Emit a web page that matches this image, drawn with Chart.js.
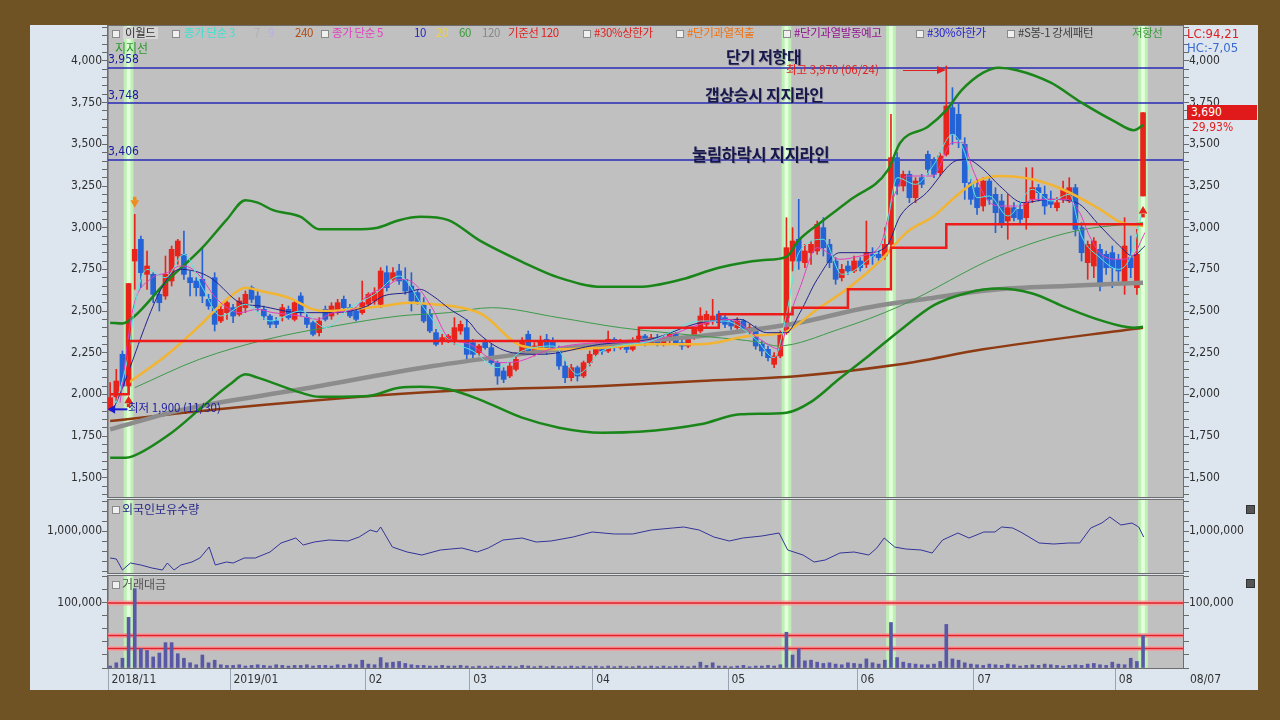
<!DOCTYPE html>
<html>
<head>
<meta charset="utf-8">
<title>이월드 일봉</title>
<script src="https://cdn.jsdelivr.net/npm/chart.js@4.4.0/dist/chart.umd.min.js"></script>
<style>
  body { margin: 0; background: #6f5325; }
  #wrap { position: relative; width: 1280px; height: 720px; background: #6f5325; overflow: hidden;
          font-family: 'Noto Sans CJK KR', 'Noto Sans', sans-serif; }
  #panel { position: absolute; left: 30px; top: 25px; width: 1228px; height: 665px; background: #dde6ef; }
  canvas { position: absolute; }
  .t { position: absolute; white-space: nowrap; line-height: 1; z-index: 5; }
  .lg { font-size: 11.5px; letter-spacing: -0.4px; top: 27px; }
  .bx { position: absolute; width: 6px; height: 6px; border: 1px solid #8a8a8a; background: #f0f0f0; z-index: 5; }
  .num { font-family: 'Liberation Sans Narrow', 'DejaVu Sans Condensed', sans-serif; font-size: 12px; }
  .big { font-size: 16px; font-weight: 700; color: #17174c; letter-spacing: -0.3px;
         text-shadow: 1px 1px 0 rgba(120,120,140,0.5); }
  .cls { position: absolute; width: 7px; height: 7px; background: #555; border: 1px solid #333; z-index: 5; }
</style>
</head>
<body>
<div id="wrap">
  <div id="panel"></div>
  <canvas id="cPrice" width="1228" height="474" style="left:30px;top:25px;"></canvas>
  <canvas id="cFh" width="1228" height="75" style="left:30px;top:499px;"></canvas>
  <canvas id="cTv" width="1228" height="116" style="left:30px;top:574px;"></canvas>

  <!-- legend row -->
  <span class="bx" style="left:112px;top:30px;"></span>
  <span class="t lg" style="left:123px;color:#303030;background:#d6d6d6;padding:0 2px;">이월드</span>
  <span class="bx" style="left:172px;top:30px;"></span>
  <span class="t lg" style="left:184px;color:#3ee0d0;">종가 단순 3</span>
  <span class="t lg" style="left:254px;color:#b0b0b0;">7</span>
  <span class="t lg" style="left:268px;color:#c0a8f0;">9</span>
  <span class="t lg" style="left:295px;color:#b04a10;">240</span>
  <span class="bx" style="left:321px;top:30px;"></span>
  <span class="t lg" style="left:332px;color:#e040c0;">종가 단순 5</span>
  <span class="t lg" style="left:414px;color:#2222cc;">10</span>
  <span class="t lg" style="left:436px;color:#f0d040;">20</span>
  <span class="t lg" style="left:459px;color:#3a9a3a;">60</span>
  <span class="t lg" style="left:482px;color:#888888;">120</span>
  <span class="t lg" style="left:508px;color:#e02020;">기준선 120</span>
  <span class="bx" style="left:583px;top:30px;"></span>
  <span class="t lg" style="left:594px;color:#e02020;">#30%상한가</span>
  <span class="bx" style="left:676px;top:30px;"></span>
  <span class="t lg" style="left:687px;color:#f07010;">#단기과열적출</span>
  <span class="bx" style="left:783px;top:30px;"></span>
  <span class="t lg" style="left:794px;color:#901090;">#단기과열발동예고</span>
  <span class="bx" style="left:916px;top:30px;"></span>
  <span class="t lg" style="left:927px;color:#2222cc;">#30%하한가</span>
  <span class="bx" style="left:1007px;top:30px;"></span>
  <span class="t lg" style="left:1018px;color:#404040;">#S봉-1 강세패턴</span>
  <span class="t lg" style="left:1132px;color:#3a9a3a;">저항선</span>

  <span class="t num" style="left:1187px;top:27px;color:#e02020;font-size:13px;">LC:94,21</span>
  <span class="t num" style="left:1187px;top:41px;color:#3a6ad0;font-size:13px;">HC:-7,05</span>

  <span class="t" style="left:115px;top:42px;color:#2a9a2a;font-size:12px;">지지선</span>
  <span class="t num" style="left:108px;top:53px;color:#1a1aa0;">3,958</span>
  <span class="t num" style="left:108px;top:89px;color:#1a1aa0;">3,748</span>
  <span class="t num" style="left:108px;top:145px;color:#1a1aa0;">3,406</span>

  <span class="t big" style="left:726px;top:48px;">단기 저항대</span>
  <span class="t big" style="left:705px;top:86px;">갭상승시 지지라인</span>
  <span class="t big" style="left:692px;top:146px;font-size:16.5px;">눌림하락시 지지라인</span>

  <span class="t" style="left:786px;top:64px;color:#e02020;font-size:11.5px;">최고 3,970 (06/24)</span>
  <span class="t" style="left:903px;top:70px;width:34px;height:1px;background:#e02020;"></span>
  <span class="t" style="left:937px;top:66px;width:0;height:0;border-top:4px solid transparent;border-bottom:4px solid transparent;border-left:9px solid #e02020;"></span>

  <span class="t" style="left:128px;top:402px;color:#1a1aa0;font-size:11.5px;">최저 1,900 (11/30)</span>

  <span class="t num" style="left:1187px;top:105px;width:70px;height:15px;background:#e01a1a;color:#fff;line-height:15px;padding-left:4px;box-sizing:border-box;">3,690</span>
  <span class="t num" style="left:1192px;top:121px;color:#e02020;">29,93%</span>

  <span class="bx" style="left:112px;top:506px;"></span>
  <span class="t" style="left:122px;top:503px;color:#2a2a8a;font-size:12px;">외국인보유수량</span>
  <span class="cls" style="left:1246px;top:505px;"></span>
  <span class="bx" style="left:112px;top:581px;"></span>
  <span class="t" style="left:122px;top:578px;color:#555;font-size:12px;">거래대금</span>
  <span class="cls" style="left:1246px;top:579px;"></span>

  <span class="t num" style="left:1190px;top:673px;color:#333;">08/07</span>
</div>

<script>
// ---- candles: 2018/11/30 .. 2019/08/07 (trading day index 0..168)
const opens = [
  1910,1985,2240,2050,2800,2930,2720,2720,2600,2590,
  2680,2830,2840,2700,2680,2690,2570,2700,2440,2490,
  2520,2480,2520,2640,2590,2510,2470,2440,2470,2510,
  2450,2590,2460,2430,2370,2510,2470,2500,2570,2520,
  2500,2490,2540,2560,2540,2730,2690,2740,2690,2650,
  2610,2540,2480,2370,2320,2330,2320,2380,2400,2310,
  2250,2320,2280,2190,2140,2110,2150,2250,2360,2240,
  2280,2330,2320,2280,2170,2100,2160,2110,2190,2240,
  2290,2260,2330,2280,2310,2270,2320,2350,2310,2340,
  2300,2330,2360,2310,2290,2340,2380,2420,2440,2480,
  2460,2440,2400,2440,2380,2400,2300,2270,2180,2230,
  2370,2800,2930,2790,2850,2860,3000,2900,2800,2700,
  2770,2740,2800,2780,2840,2840,2830,2900,3420,3250,
  3320,3180,3300,3440,3400,3330,3440,3720,3680,3500,
  3270,3240,3130,3280,3200,3160,3040,3120,3110,3060,
  3170,3240,3200,3160,3120,3170,3160,3240,3000,2790,
  2770,2870,2840,2850,2810,2660,2820,2640,3190
];
const highs = [
  2070,2150,2260,2665,3080,2950,2860,2730,2630,2830,
  2890,2930,2980,2740,2700,2880,2600,2730,2530,2560,
  2540,2580,2620,2650,2630,2530,2480,2460,2540,2530,
  2560,2610,2480,2440,2460,2530,2550,2570,2590,2540,
  2520,2680,2610,2640,2760,2770,2760,2780,2760,2730,
  2630,2580,2510,2390,2360,2360,2460,2440,2450,2330,
  2300,2330,2300,2200,2160,2190,2250,2340,2380,2310,
  2350,2360,2340,2290,2200,2180,2170,2200,2260,2310,
  2320,2380,2340,2330,2320,2340,2370,2360,2360,2360,
  2350,2370,2370,2330,2350,2400,2520,2500,2570,2500,
  2480,2450,2460,2450,2420,2410,2320,2290,2250,2380,
  3060,3000,3170,2900,2920,3040,3060,2930,2820,2780,
  2800,2830,2820,3040,2880,2860,3000,3680,3450,3340,
  3340,3300,3320,3460,3420,3450,3970,3840,3740,3540,
  3290,3290,3300,3300,3240,3200,3200,3150,3150,3360,
  3360,3260,3250,3220,3180,3280,3300,3260,3030,2920,
  2940,2900,2860,2890,2840,3060,2950,2990,3690
];
const lows = [
  1900,1960,2040,2000,2630,2640,2630,2550,2500,2570,
  2650,2780,2690,2590,2590,2550,2510,2380,2430,2450,
  2430,2470,2490,2550,2500,2450,2400,2400,2440,2450,
  2440,2470,2400,2350,2350,2440,2450,2480,2500,2460,
  2440,2480,2520,2540,2520,2620,2680,2660,2600,2500,
  2540,2430,2370,2290,2300,2310,2300,2360,2200,2220,
  2230,2270,2180,2060,2070,2100,2140,2240,2240,2230,
  2270,2240,2260,2150,2070,2080,2080,2100,2170,2230,
  2240,2250,2260,2270,2250,2260,2300,2290,2300,2290,
  2290,2310,2300,2270,2280,2330,2370,2400,2420,2410,
  2400,2390,2390,2370,2360,2270,2230,2200,2160,2220,
  2360,2740,2750,2760,2780,2840,2830,2760,2660,2680,
  2720,2730,2740,2760,2780,2800,2810,2880,3200,3220,
  3150,3150,3240,3320,3300,3310,3430,3500,3480,3170,
  3140,3080,3100,3140,2970,3000,2930,3040,3030,2990,
  3150,3160,3080,3120,3100,3150,3150,2950,2800,2690,
  2700,2620,2720,2640,2680,2600,2700,2600,3190
];
const closes = [
  1980,2080,2050,2665,2870,2730,2770,2600,2550,2720,
  2870,2920,2720,2670,2640,2590,2530,2420,2510,2550,
  2470,2560,2600,2570,2520,2470,2420,2420,2520,2460,
  2550,2490,2420,2360,2440,2450,2530,2550,2520,2470,
  2450,2550,2600,2610,2740,2640,2730,2680,2620,2560,
  2550,2440,2380,2300,2340,2350,2400,2420,2240,2240,
  2290,2280,2190,2110,2090,2170,2210,2320,2260,2290,
  2320,2260,2280,2170,2100,2160,2110,2190,2240,2290,
  2260,2330,2280,2310,2270,2320,2350,2310,2340,2300,
  2330,2360,2310,2290,2340,2390,2470,2480,2470,2430,
  2420,2410,2440,2380,2400,2290,2260,2220,2230,2360,
  2880,2920,2800,2860,2900,3020,2880,2790,2690,2750,
  2740,2800,2760,2850,2830,2820,2900,3420,3250,3320,
  3180,3280,3260,3350,3320,3430,3730,3560,3530,3270,
  3170,3120,3280,3170,3090,3030,3120,3060,3050,3150,
  3240,3210,3130,3140,3150,3230,3240,2990,2850,2900,
  2920,2650,2760,2760,2740,2890,2760,2840,3690
];

// ---- moving averages / bands (day index, price)
const ma3Days = [1,3,4,6,9,12,15,18,22,26,31,35,39,43,47,51,55,59,63,67,72,76,80,88,96,100,105,108,110,112,116,119,123,126,128,131,134,137,139,141,143,146,150,153,156,158,161,164,166,168];
const ma3Vals = [1950,2250,2530,2750,2700,2840,2640,2470,2540,2440,2500,2400,2520,2600,2710,2520,2330,2260,2160,2260,2290,2120,2260,2320,2440,2440,2330,2220,2480,2850,2930,2720,2800,2950,3300,3260,3380,3560,3450,3180,3190,3070,3230,3160,3200,2950,2820,2750,2830,3120];

const ma5Days = [1.6,3.7,6.5,9.3,11.4,13,14.6,17.4,21.1,23.9,26.5,30.9,33.7,36.3,39.5,41.8,45,47.2,49.3,52.5,54.8,58.5,63.4,66.7,71.5,79.7,87.8,96,100.8,105.7,109,110,112.2,115,118.7,122,125.2,127.3,129.6,133.8,137,138.7,140.3,142.6,144.7,148,150.1,155.6,157.7,159.3,161.5,164.2,166.3,168.3];
const ma5Vals = [1950,2510,2690,2730,2770,2760,2710,2570,2490,2510,2490,2470,2450,2490,2510,2590,2650,2690,2670,2510,2350,2300,2190,2200,2270,2310,2320,2420,2450,2330,2270,2410,2640,2880,2810,2830,2890,3170,3310,3310,3510,3510,3350,3170,3130,3130,3170,3170,3090,2950,2830,2810,2830,2970];

const ma10Days = [0.5,11.4,14.6,16.7,21.1,24.4,30.9,36.3,41.8,44.4,48.3,50.4,52.5,55.3,58.5,59.8,65.4,70,79.7,87.8,96,102.4,106.8,110,112.2,115,118.7,123,126.3,128.5,132.8,137,139.3,142,144.7,148.5,152.8,157.2,161,164.2,166.3,168.3];
const ma10Vals = [1910,2750,2730,2690,2550,2530,2490,2490,2530,2590,2610,2630,2590,2510,2430,2370,2250,2240,2300,2330,2430,2450,2370,2370,2490,2690,2850,2850,2890,3070,3210,3390,3410,3350,3250,3150,3170,3150,3010,2890,2830,2890];

const ma20Days = [3,9,14.5,19,22,24.5,29,33,35.5,39,44.5,48.5,52.5,55.5,60.5,67,73,80,88,96,104,109.5,115,120.5,125.5,129.5,134,137,140.5,144.5,150,155.5,161,164.5,168];
const ma20Vals = [2070,2230,2410,2570,2640,2620,2580,2510,2500,2510,2530,2550,2540,2530,2480,2290,2270,2280,2300,2300,2350,2370,2510,2650,2810,2970,3070,3170,3270,3310,3290,3220,3110,3030,3010];

const ma60Days = [4,14.5,25.5,36.5,47,55,62,73,83,96,106,108.5,118.5,128.5,144.5,157,168];
const ma60Vals = [2040,2210,2330,2410,2470,2490,2520,2460,2400,2350,2310,2290,2390,2530,2830,2980,3030];

const ma120Days = [0,12,31,52.5,66.5,80,96,112,123,134,144.5,155.5,168];
const ma120Vals = [1790,1910,2030,2170,2240,2300,2350,2430,2520,2580,2630,2650,2670];

const ma240Days = [0,20,55,80,96,112,128.5,142,168];
const ma240Vals = [1840,1920,2020,2050,2080,2110,2180,2270,2400];

const upperDays = [0,2,4,9,15,19,22,24,26.5,31,34,39.5,43.5,47,50.5,55,60,67,73,80,86,93,99,106,110,112,115.5,120.5,126.5,128.5,133,136,138.5,142,144.5,147.5,153,158,163.5,166.5,168];
const upperVals = [2430,2425,2470,2670,2880,3050,3165,3150,3105,3065,2990,2990,3000,3045,3065,3045,2925,2795,2700,2645,2645,2690,2760,2805,2825,2925,3030,3170,3345,3510,3605,3705,3825,3930,3960,3945,3870,3750,3635,3585,3615];

const lowerDays = [0,2.5,3.5,10,15,19.5,22,24,31,34,42,47,50.5,55,60,67,73,80,86,96,102.5,110,114,118.5,123.5,128.5,134,139.5,144.5,150,155.5,161,166.5,168];
const lowerVals = [1620,1620,1626,1770,1925,2060,2120,2100,2010,1985,1990,2040,2045,2030,1970,1860,1800,1770,1775,1820,1880,1890,1955,2090,2235,2385,2535,2610,2635,2605,2520,2445,2400,2405];

// 기준선 120 (step line)
const baseDays = [0,3,86,99,111,120,127,136,168];
const baseVals = [2000,2320,2400,2480,2520,2630,2880,3020,3020];

// horizontal resistance / support levels
const levels = [3958, 3748, 3406];
// 저항선 signal days (green highlight)
const signalDays = [3, 110, 127, 168];

// ---- foreign holdings (day index, shares)
const fhDays = [0,1,2,3.3,5,6.8,8.5,9.3,10.4,11.5,13.3,14.6,16.1,17.1,18.9,20,21.8,23.6,26,27.8,30.2,31.4,33.2,35.6,38.7,40.5,42.3,43.4,44,45.9,48.3,50.7,53.7,57.2,59.7,61.5,63.9,67,69.3,71.7,75.3,78.4,82,85,88,91.5,93.3,95.8,98.2,100.7,102.9,106,108.8,110.2,112.7,114.5,116.3,118.7,121,123.4,124.7,125.9,127.6,129.4,131.9,133.7,135.4,137.9,139.7,142.1,143.9,145,146.8,148.1,151.1,153.5,155.9,157.7,159.5,161.3,162.6,164.4,166.2,167.3,168.1];
const fhVals = [946000,944000,922000,936000,932000,926000,922000,936000,922000,932000,938000,946000,968000,932000,938000,936000,946000,946000,958000,976000,986000,972000,978000,982000,980000,988000,1002000,998000,1008000,968000,958000,952000,962000,966000,958000,966000,982000,986000,978000,980000,988000,998000,994000,994000,1002000,1006000,1008000,1002000,988000,980000,986000,990000,996000,962000,952000,938000,942000,956000,958000,952000,966000,986000,968000,964000,962000,956000,982000,996000,986000,998000,998000,1008000,1006000,998000,976000,974000,976000,976000,1006000,1016000,1028000,1012000,1016000,1008000,988000];

// ---- trading value (거래대금), one per day
const tvVals = [
  3000,8000,15000,78000,122000,30000,27000,17000,23000,39000,39000,22000,15000,8000,5000,20000,8000,12000,5000,4000,
  4000,5000,3000,4000,5000,4000,3000,5000,4000,3000,4000,4000,5000,3000,4000,4000,3000,5000,4000,6000,
  5000,12000,6000,5000,16000,8000,9000,10000,7000,5000,4000,4000,3000,3000,4000,3000,3000,4000,3000,2000,
  3000,2000,3000,2000,3000,3000,2000,4000,3000,2000,3000,2000,3000,2000,2000,3000,2000,3000,2000,3000,
  2000,3000,2000,3000,2000,2000,3000,2000,3000,2000,3000,2000,3000,3000,2000,3000,9000,4000,8000,3000,
  3000,2000,3000,4000,2000,3000,3000,4000,3000,5000,55000,20000,30000,11000,12000,9000,7000,8000,6000,5000,
  8000,7000,6000,14000,8000,6000,12000,70000,16000,9000,7000,6000,5000,5000,6000,10000,67000,14000,12000,8000,
  6000,5000,4000,6000,5000,4000,6000,5000,3000,4000,5000,4000,6000,5000,4000,3000,4000,5000,4000,6000,
  7000,5000,4000,9000,6000,5000,15000,10000,50000
];
const tvLevels = [100000, 50000, 30000];

// ---- axis ticks
const priceLabels = [1500, 1750, 2000, 2250, 2500, 2750, 3000, 3250, 3500, 3750, 4000];
const priceMinorStep = 50;
const fhLabels = [1000000];
const fhMinorStep = 20000;
const tvLabels = [100000];
const tvMinorStep = 20000;
// x-axis month ticks (day index of the separator) and labels
const monthTicks = [-0.35, 19.5, 41.5, 58.5, 78.5, 100.5, 121.5, 140.5, 163.5];
const monthLabels = ['2018/11', '2019/01', '02', '03', '04', '05', '06', '07', '08'];

// ---- signal arrows: [day, price]
const orangeDown = [4, 3150];
const redUp = [[3, 1962], [168, 3100]];
const blueLeft = [0.4, 1910];

const X_MIN = -0.35, X_MAX = 174.5;
const tickFont = { family: "'Liberation Sans Narrow','DejaVu Sans Condensed',sans-serif", size: 12 };
const tinyFont = { family: tickFont.family, size: 0.5 };
const UP = '#e8231c', DOWN = '#2463d6';

function pts(days, vals) { return days.map((d, k) => ({ x: d, y: vals[k] })); }

const framePlugin = {
  id: 'frame',
  beforeDraw(chart) {
    const a = chart.chartArea, c = chart.ctx;
    c.save(); c.fillStyle = '#c0c0c0';
    c.fillRect(a.left, a.top, a.right - a.left, a.bottom - a.top); c.restore();
  },
  afterDraw(chart) {
    const a = chart.chartArea, c = chart.ctx;
    c.save(); c.strokeStyle = '#6d6d6d'; c.lineWidth = 1;
    c.strokeRect(a.left - 0.5, a.top - 0.5, a.right - a.left + 1, a.bottom - a.top + 1); c.restore();
  }
};

// tick list: every minor step inside the range, labels only on the listed values
function tickList(min, max, step, labels) {
  const out = [];
  for (let v = Math.ceil(min / step) * step; v <= max; v += step) out.push(v);
  labels.forEach(v => { if (!out.includes(v)) out.push(v); });
  return out.sort((a, b) => a - b);
}

function sideAxis(pos, min, max, step, labels) {
  const list = tickList(min, max, step, labels);
  return {
    type: 'linear', position: pos, min: min, max: max, bounds: 'data',
    afterBuildTicks(ax) { ax.ticks = list.map(v => ({ value: v })); },
    ticks: {
      autoSkip: false, color: '#2e2e2e', padding: 0,
      font: ctx => (ctx.tick && labels.includes(ctx.tick.value)) ? tickFont : tinyFont,
      callback: v => labels.includes(v) ? v.toLocaleString('en-US') : ''
    },
    grid: { drawOnChartArea: false, tickLength: 6, color: '#6a6a6a' },
    border: { display: true, color: '#909090' },
    afterFit(a) { a.width = pos === 'left' ? 78 : 75; a.paddingTop = 0; a.paddingBottom = 0; }
  };
}

function hiddenX() {
  return { type: 'linear', min: X_MIN, max: X_MAX, offset: false, bounds: 'data', display: false };
}

function bandSets(min, max) {
  return [
    { type: 'bar', data: signalDays.map(d => ({ x: d, y: [min, max] })), backgroundColor: '#bff0b6',
      barThickness: 9, grouped: false, order: 101 },
    { type: 'bar', data: signalDays.map(d => ({ x: d, y: [min, max] })), backgroundColor: '#e4ffdc',
      barThickness: 3, grouped: false, order: 100 }
  ];
}

function line(days, vals, color, width, order) {
  return { type: 'line', data: pts(days, vals), borderColor: color, borderWidth: width, pointRadius: 0,
           cubicInterpolationMode: 'monotone', fill: false, order: order };
}

// autoPadding off: the chart area is exactly the layout padding, so the axes line up with the panels
const baseOpts = (scales, pad) => ({
  responsive: false, maintainAspectRatio: false, animation: false, devicePixelRatio: 1,
  layout: { padding: pad, autoPadding: false },
  plugins: { legend: { display: false }, tooltip: { enabled: false } },
  scales: scales
});

// ---------------- price panel
const P_MIN = 1384, P_MAX = 4210;
const colorOf = opens.map((o, i) => closes[i] >= o ? UP : DOWN);

const priceSets = [
  ...bandSets(P_MIN, P_MAX),
  ...levels.map(lv => ({ type: 'line', data: [{ x: X_MIN, y: lv }, { x: X_MAX, y: lv }],
    borderColor: '#2a2ab8', borderWidth: 1.5, pointRadius: 0, order: 90 })),
  { type: 'bar', data: opens.map((o, i) => ({ x: i, y: [lows[i], highs[i]] })),
    backgroundColor: colorOf, barThickness: 1, grouped: false, order: 80 },
  { type: 'bar', data: opens.map((o, i) => ({ x: i, y: [o, closes[i]] })),
    backgroundColor: colorOf, barThickness: 5, minBarLength: 1, grouped: false, order: 70 },
  line(ma240Days, ma240Vals, '#8e3a12', 2.5, 60),
  line(ma120Days, ma120Vals, '#8c8c8c', 4.5, 59),
  line(upperDays, upperVals, '#1a861a', 2.5, 58),
  line(lowerDays, lowerVals, '#1a861a', 2.5, 58),
  line(ma60Days, ma60Vals, '#3d9a4a', 1, 57),
  line(ma20Days, ma20Vals, '#f2b431', 2.5, 56),
  line(ma10Days, ma10Vals, '#23238f', 1, 55),
  line(ma5Days, ma5Vals, '#e040c0', 1, 54),
  line(ma3Days, ma3Vals, '#58e6e0', 1, 53),
  { type: 'line', data: pts(baseDays, baseVals), stepped: true, borderColor: '#ee1b1b', borderWidth: 2.5,
    pointRadius: 0, order: 40 },
  // arrows
  { type: 'line', showLine: false, data: [{ x: orangeDown[0], y: orangeDown[1] + 25 }], pointStyle: 'rect',
    pointRadius: 2.5, backgroundColor: '#f28a1e', borderWidth: 0, order: 2 },
  { type: 'line', showLine: false, data: [{ x: orangeDown[0], y: orangeDown[1] }], pointStyle: 'triangle',
    pointRotation: 180, pointRadius: 5, backgroundColor: '#f28a1e', borderWidth: 0, order: 1 },
  { type: 'line', showLine: false, data: redUp.map(p => ({ x: p[0], y: p[1] - 28 })), pointStyle: 'rect',
    pointRadius: 2.5, backgroundColor: '#e8231c', borderWidth: 0, order: 2 },
  { type: 'line', showLine: false, data: redUp.map(p => ({ x: p[0], y: p[1] })), pointStyle: 'triangle',
    pointRadius: 5, backgroundColor: '#e8231c', borderWidth: 0, order: 1 },
  { type: 'line', data: [{ x: blueLeft[0], y: blueLeft[1] }, { x: blueLeft[0] + 2.4, y: blueLeft[1] }],
    borderColor: '#1a1ad0', borderWidth: 2, pointRadius: 0, order: 2 },
  { type: 'line', showLine: false, data: [{ x: blueLeft[0], y: blueLeft[1] }], pointStyle: 'triangle',
    pointRotation: -90, pointRadius: 5, backgroundColor: '#1a1ad0', borderWidth: 0, order: 1 }
];
priceSets.forEach(d => { d.xAxisID = 'x'; d.yAxisID = 'y'; });

new Chart(document.getElementById('cPrice'), {
  type: 'bar',
  data: { datasets: priceSets },
  options: baseOpts({
    x: hiddenX(),
    y: sideAxis('left', P_MIN, P_MAX, priceMinorStep, priceLabels),
    yR: sideAxis('right', P_MIN, P_MAX, priceMinorStep, priceLabels)
  }, { top: 1, bottom: 2, left: 0, right: 0 }),
  plugins: [framePlugin]
});

// ---------------- foreign holdings panel
const F_MIN = 916000, F_MAX = 1062000;
const fhSets = [
  ...bandSets(F_MIN, F_MAX),
  { type: 'line', data: pts(fhDays, fhVals), borderColor: '#34349a', borderWidth: 1, pointRadius: 0, order: 10 }
];
fhSets.forEach(d => { d.xAxisID = 'x'; d.yAxisID = 'y'; });
new Chart(document.getElementById('cFh'), {
  type: 'bar',
  data: { datasets: fhSets },
  options: baseOpts({
    x: hiddenX(),
    y: sideAxis('left', F_MIN, F_MAX, fhMinorStep, fhLabels),
    yR: sideAxis('right', F_MIN, F_MAX, fhMinorStep, fhLabels)
  }, { top: 1, bottom: 1, left: 0, right: 0 }),
  plugins: [framePlugin]
});

// ---------------- trading value panel
const T_MIN = 0, T_MAX = 141500;
const tvSets = [
  ...bandSets(T_MIN, T_MAX),
  ...tvLevels.map(lv => ({ type: 'line', data: [{ x: X_MIN, y: lv }, { x: X_MAX, y: lv }],
    borderColor: 'rgba(255,150,150,0.75)', borderWidth: 5, pointRadius: 0, order: 31 })),
  ...tvLevels.map(lv => ({ type: 'line', data: [{ x: X_MIN, y: lv }, { x: X_MAX, y: lv }],
    borderColor: '#e0202a', borderWidth: 1.5, pointRadius: 0, order: 30 })),
  { type: 'bar', data: tvVals.map((v, i) => ({ x: i, y: v })), backgroundColor: '#5858a6',
    barThickness: 3, grouped: false, order: 10 }
];
tvSets.forEach(d => { d.xAxisID = 'x'; d.yAxisID = 'y'; });
new Chart(document.getElementById('cTv'), {
  type: 'bar',
  data: { datasets: tvSets },
  options: baseOpts({
    x: {
      type: 'linear', position: 'bottom', min: X_MIN, max: X_MAX, offset: false, bounds: 'data',
      afterBuildTicks(ax) { ax.ticks = monthTicks.map(v => ({ value: v })); },
      ticks: { autoSkip: false, maxRotation: 0, align: 'start', padding: -17, color: '#333', font: tickFont,
               callback: (v, i) => ' ' + monthLabels[i] },
      grid: { drawOnChartArea: false, offset: false, tickLength: 22, color: '#9aa4b0' },
      border: { display: false },
      afterFit(a) { a.height = 22; a.paddingLeft = 0; a.paddingRight = 0; }
    },
    y: sideAxis('left', T_MIN, T_MAX, tvMinorStep, tvLabels),
    yR: sideAxis('right', T_MIN, T_MAX, tvMinorStep, tvLabels)
  }, { top: 2, bottom: 0, left: 0, right: 0 }),
  plugins: [framePlugin]
});
</script>
</body>
</html>
